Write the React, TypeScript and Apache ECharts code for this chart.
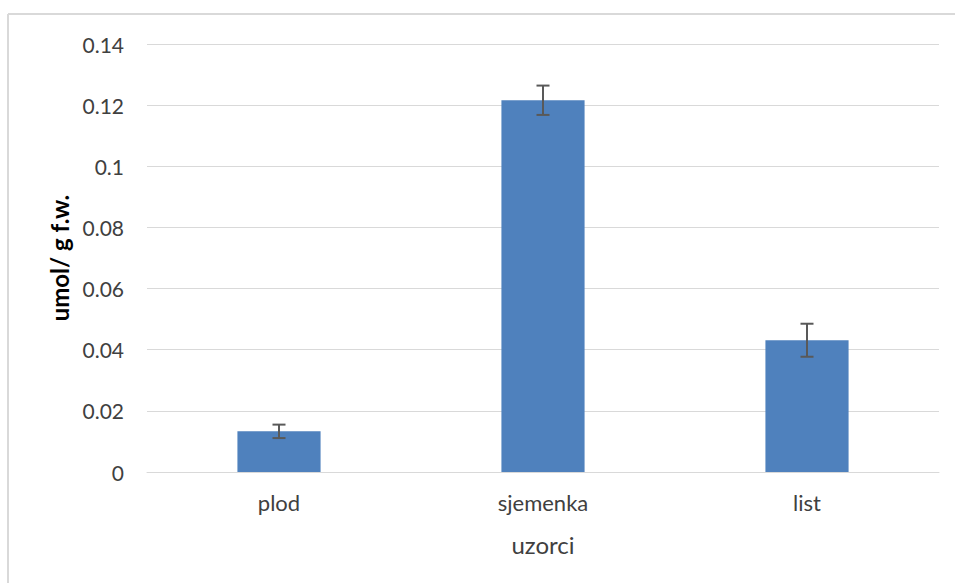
import React, { useEffect, useRef } from "react";
import * as echarts from "echarts";

const categories = ["plod", "sjemenka", "list"];
const values = [0.0133, 0.1216, 0.0431];
const errors = [0.0022, 0.0048, 0.0054];
const yTicks = { min: 0, max: 0.14, interval: 0.02 };

const FONT = "Lato, 'Open Sans', sans-serif";

export default function App() {
  const ref = useRef<HTMLDivElement>(null);
  useEffect(() => {
    if (!ref.current) return;
    const chart = echarts.init(ref.current, null, { renderer: "svg" });
    chart.setOption({
      animation: false,
      backgroundColor: "#ffffff",
      textStyle: { fontFamily: FONT },
      grid: { left: 147, right: 16, top: 44, bottom: 111 },
      graphic: [
        {
          type: "line",
          shape: { x1: 8, y1: 14, x2: 955, y2: 14 },
          style: { stroke: "#d9d9d9", lineWidth: 2 },
        },
        {
          type: "line",
          shape: { x1: 8, y1: 14, x2: 8, y2: 583 },
          style: { stroke: "#d9d9d9", lineWidth: 2 },
        },
      ],
      xAxis: {
        type: "category",
        data: categories,
        name: "uzorci",
        nameLocation: "middle",
        nameGap: 60,
        nameTextStyle: { fontSize: 24, color: "#404040", fontFamily: FONT },
        axisLine: { show: true, lineStyle: { color: "#d9d9d9", width: 1 } },
        axisTick: { show: false },
        axisLabel: { fontSize: 22, color: "#404040", margin: 19, fontFamily: FONT },
      },
      yAxis: {
        type: "value",
        min: yTicks.min,
        max: yTicks.max,
        interval: yTicks.interval,
        name: "umol/ g f.w.",
        nameLocation: "middle",
        nameGap: 73,
        nameTextStyle: { fontSize: 24, fontWeight: "bold", color: "#000000", fontFamily: FONT },
        axisLine: { show: false },
        axisTick: { show: false },
        splitLine: { lineStyle: { color: "#d9d9d9", width: 1 } },
        axisLabel: {
          fontSize: 21,
          color: "#404040",
          margin: 23,
          fontFamily: FONT,
          formatter: (v: number) => (v === 0 ? "0" : String(parseFloat(v.toFixed(2)))),
        },
      },
      series: [
        {
          type: "bar",
          data: values,
          barWidth: "31.5%",
          itemStyle: { color: "#4f81bd" },
        },
        {
          type: "custom",
          data: values.map((v, i) => [i, v - errors[i], v + errors[i]]),
          z: 10,
          renderItem: (params: any, api: any) => {
            const x = api.value(0);
            const lo = api.coord([x, api.value(1)]);
            const hi = api.coord([x, api.value(2)]);
            const half = 6.5;
            const style = { stroke: "#595959", lineWidth: 2 };
            return {
              type: "group",
              children: [
                { type: "line", shape: { x1: lo[0], y1: lo[1], x2: hi[0], y2: hi[1] }, style },
                { type: "line", shape: { x1: hi[0] - half, y1: hi[1], x2: hi[0] + half, y2: hi[1] }, style },
                { type: "line", shape: { x1: lo[0] - half, y1: lo[1], x2: lo[0] + half, y2: lo[1] }, style },
              ],
            };
          },
        },
      ],
    });
    return () => chart.dispose();
  }, []);
  return (
    <div
      ref={ref}
      style={{ position: "fixed", left: 0, top: 0, width: 955, height: 583 }}
    />
  );
}
